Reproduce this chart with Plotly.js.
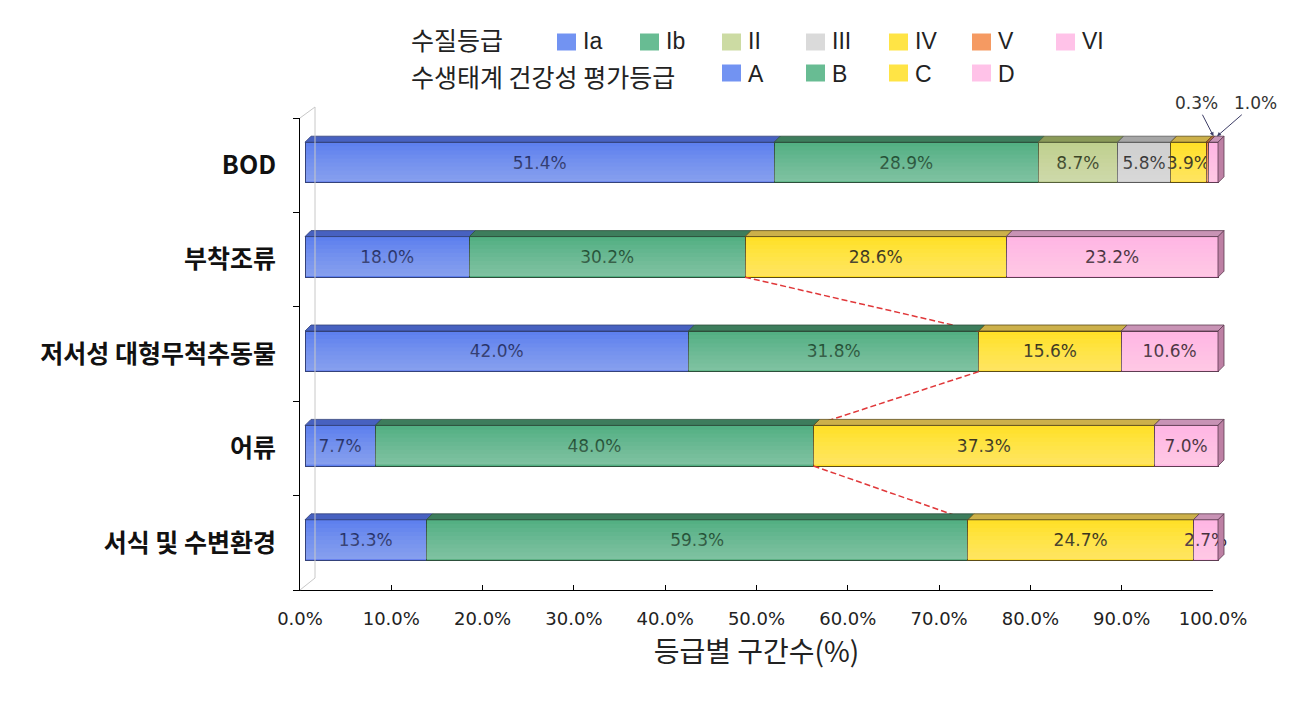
<!DOCTYPE html>
<html>
<head>
<meta charset="utf-8">
<script src="https://cdn.plot.ly/plotly-3.0.1.min.js"></script>
<style>html,body{margin:0;padding:0;background:#fff;}#chart{width:1312px;height:712px;}</style>
</head>
<body>
<div id="chart"></div>
<script>
// ---------------- data ----------------
const categories = ['BOD', '부착조류', '저서성 대형무척추동물', '어류', '서식 및 수변환경'];
const wqGrades = ['Ia', 'Ib', 'II', 'III', 'IV', 'V', 'VI'];
const bodValues = [51.4, 28.9, 8.7, 5.8, 3.9, 0.3, 1.0];
const healthGrades = ['A', 'B', 'C', 'D'];
const healthCategories = ['부착조류', '저서성 대형무척추동물', '어류', '서식 및 수변환경'];
const gradeA = [18.0, 42.0, 7.7, 13.3];
const gradeB = [30.2, 31.8, 48.0, 59.3];
const gradeC = [28.6, 15.6, 37.3, 24.7];
const gradeD = [23.2, 10.6, 7.0, 2.7];
const xTickVals = [0, 10, 20, 30, 40, 50, 60, 70, 80, 90, 100];
const xTickText = ['0.0%', '10.0%', '20.0%', '30.0%', '40.0%', '50.0%', '60.0%', '70.0%', '80.0%', '90.0%', '100.0%'];
const legendTitleWQ = '수질등급';
const legendTitleHealth = '수생태계 건강성 평가등급';
const xTitle = '등급별 구간수(%)';

// ---------------- styles ----------------
const wqStyle = {
  Ia:  {fill: '#5E80EE', swatch: '#7293F2', top: '#4761C0', edge: '#34427A', text: '#101C5A'},
  Ib:  {fill: '#53B083', swatch: '#68BC93', top: '#3D7D5C', edge: '#2D4F3B', text: '#0C3F22'},
  II:  {fill: '#BFD08E', swatch: '#CCDBA3', top: '#8A9A58', edge: '#55603A', text: '#27320E'},
  III: {fill: '#CFCFCF', swatch: '#DADADA', top: '#A6A6A6', edge: '#5A5A5A', text: '#222222'},
  IV:  {fill: '#FFE028', swatch: '#FFE445', top: '#CCB04A', edge: '#5C4C16', text: '#262006'},
  V:   {fill: '#F2874A', swatch: '#F59A62', top: '#B86F3E', edge: '#6A3A1C', text: '#2A1A0A'},
  VI:  {fill: '#FFB6E3', swatch: '#FFC2E8', top: '#C893B5', edge: '#5E3C52', text: '#341828', side: '#BD80A4'}
};
const healthStyle = {A: wqStyle.Ia, B: wqStyle.Ib, C: wqStyle.IV, D: wqStyle.VI};

// ---------------- geometry ----------------
const W = 1312, H = 712;
const plotL = 300, plotT = 118, plotB = 590, axisR = 1213, areaR = 1245;
const unitX = (axisR - plotL) / 100;
const unitY = (plotB - plotT) / categories.length;
const barShiftX = 5, barShiftY = 2.7, depth = 6;
const barWidth = 0.43;
const du = depth / unitX, dv = depth / unitY;
const x2Range = [-barShiftX / unitX, -barShiftX / unitX + (areaR - plotL) / unitX];
const y2Range = [categories.length - 0.5 + barShiftY / unitY, -0.5 + barShiftY / unitY];
const px2x = px => (px - plotL) / (areaR - plotL);
const py2y = py => (plotB - py) / (plotB - plotT);

const fontKR = '"Noto Sans CJK KR", "Noto Sans", sans-serif';
const fontNum = '"DejaVu Sans", "Liberation Sans", sans-serif';
const fontLat = '"Liberation Sans", Arial, sans-serif';

// ---------------- traces ----------------
const traces = [];
// empty trace so that the visible axis pair (x, y) is drawn
traces.push({type: 'scatter', mode: 'markers', x: [], y: [], xaxis: 'x', yaxis: 'y', showlegend: false, hoverinfo: 'skip'});

const bodIdx = categories.indexOf('BOD');
wqGrades.forEach((g, k) => {
  const st = wqStyle[g];
  traces.push({
    type: 'bar', orientation: 'h', xaxis: 'x2', yaxis: 'y2',
    name: g, x: [bodValues[k]], y: [bodIdx], width: barWidth,
    marker: {color: st.fill, line: {color: st.edge, width: 1}},
    texttemplate: '%{x:.1f}%', textposition: bodValues[k] < 2 ? 'none' : 'inside',
    insidetextanchor: 'middle', textangle: 0,
    textfont: {family: fontNum, size: 17, color: st.text},
    showlegend: false, hoverinfo: 'name+x'
  });
});
const healthY = healthCategories.map(c => categories.indexOf(c));
const healthVals = [gradeA, gradeB, gradeC, gradeD];
healthGrades.forEach((g, k) => {
  const st = healthStyle[g];
  traces.push({
    type: 'bar', orientation: 'h', xaxis: 'x2', yaxis: 'y2',
    name: g, x: healthVals[k], y: healthY, width: barWidth,
    marker: {color: st.fill, line: {color: st.edge, width: 1}},
    texttemplate: '%{x:.1f}%', textposition: 'inside',
    insidetextanchor: 'middle', textangle: 0,
    textfont: {family: fontNum, size: 17, color: st.text},
    showlegend: false, hoverinfo: 'name+x'
  });
});

// red dashed connectors between the B / C boundaries of consecutive rows
const cumAB = healthCategories.map((c, i) => gradeA[i] + gradeB[i]);
const connX = [], connY = [];
for (let i = 0; i < healthCategories.length - 1; i++) {
  connX.push(cumAB[i], cumAB[i + 1], null);
  connY.push(healthY[i] + barWidth / 2, healthY[i + 1] - barWidth / 2, null);
}
traces.push({
  type: 'scatter', mode: 'lines', xaxis: 'x2', yaxis: 'y2',
  x: connX, y: connY, line: {color: '#E0383A', width: 1.5, dash: '6px,3px'},
  showlegend: false, hoverinfo: 'skip'
});

// ---------------- 3D faces + shading ----------------
const shapes = [];
const nBands = 10, maxWhite = 0.32;
function addFaces(values, styles, yc) {
  const yt = yc - barWidth / 2, yb = yc + barWidth / 2;
  let base = 0;
  values.forEach((v, k) => {
    const x0 = base, x1 = base + v;
    shapes.push({
      type: 'path', xref: 'x2', yref: 'y2', layer: 'above',
      path: `M${x0},${yt} L${x0 + du},${yt - dv} L${x1 + du},${yt - dv} L${x1},${yt} Z`,
      fillcolor: styles[k].top, line: {color: styles[k].edge, width: 0.8}
    });
    base = x1;
  });
  const last = styles[styles.length - 1];
  shapes.push({
    type: 'path', xref: 'x2', yref: 'y2', layer: 'above',
    path: `M${base},${yt} L${base + du},${yt - dv} L${base + du},${yb - dv} L${base},${yb} Z`,
    fillcolor: last.side, line: {color: last.edge, width: 0.8}
  });
  // soft vertical gradient on the front faces: nested strips, each reaching the bottom
  const inner = 1.2 / unitY;
  for (let b = 1; b < nBands; b++) {
    shapes.push({
      type: 'rect', xref: 'x2', yref: 'y2', layer: 'above',
      x0: 0.1, x1: base - 0.1, y0: yt + (yb - yt) * b / nBands, y1: yb - inner,
      fillcolor: `rgba(255,255,255,${(maxWhite / (nBands - 1)).toFixed(4)})`, line: {width: 0}
    });
  }
}
addFaces(bodValues, wqGrades.map(g => wqStyle[g]), bodIdx);
healthCategories.forEach((c, i) => {
  addFaces(healthVals.map(a => a[i]), healthGrades.map(g => healthStyle[g]), healthY[i]);
});

// back wall of the 3D frame
const wallCol = '#C8C8C8';
const wallX = plotL + 15, wallTop = plotT - 11, wallBot = plotB - 12;
shapes.push({type: 'line', xref: 'paper', yref: 'paper', x0: px2x(wallX), x1: px2x(wallX), y0: py2y(wallTop), y1: py2y(wallBot), line: {color: wallCol, width: 1}});
shapes.push({type: 'line', xref: 'paper', yref: 'paper', x0: 0, x1: px2x(wallX), y0: 1, y1: py2y(wallTop), line: {color: wallCol, width: 1}});
shapes.push({type: 'line', xref: 'paper', yref: 'paper', x0: 0, x1: px2x(wallX), y0: 0, y1: py2y(wallBot), line: {color: wallCol, width: 1}});

// ---------------- custom legend ----------------
const annotations = [];
const row1Y = 42, row2Y = 73, swW = 19, swH = 17;
const colX = [557, 640, 722, 806, 889, 972, 1056];
annotations.push({xref: 'paper', yref: 'paper', x: px2x(409), y: py2y(39.5), xanchor: 'left', yanchor: 'middle',
  text: legendTitleWQ, showarrow: false, font: {family: fontKR, size: 25, color: '#222'}});
annotations.push({xref: 'paper', yref: 'paper', x: px2x(409), y: py2y(76), xanchor: 'left', yanchor: 'middle',
  text: legendTitleHealth, showarrow: false, font: {family: fontKR, size: 25, color: '#222'}});
function legendItem(label, st, cx, cy, ty) {
  shapes.push({type: 'rect', xref: 'paper', yref: 'paper',
    x0: px2x(cx), x1: px2x(cx + swW), y0: py2y(cy - swH / 2), y1: py2y(cy + swH / 2),
    fillcolor: st.swatch, line: {width: 0}});
  annotations.push({xref: 'paper', yref: 'paper', x: px2x(cx + swW + 5), y: py2y(ty), xanchor: 'left', yanchor: 'middle',
    text: label, showarrow: false, font: {family: fontLat, size: 23, color: '#222'}});
}
wqGrades.forEach((g, k) => legendItem(g, wqStyle[g], colX[k], row1Y, 41));
healthGrades.forEach((g, k) => legendItem(g, healthStyle[g], colX[k + 2], row2Y, 74));

// labels for the tiny BOD segments, with leader arrows
const bodCum = bodValues.map((v, k) => bodValues.slice(0, k).reduce((a, b) => a + b, 0));
const smallLabels = [{k: 5, fx: 1.0, ax: -17, ay: -33}, {k: 6, fx: 0.6, ax: 38, ay: -33}];
smallLabels.forEach(s => {
  annotations.push({
    xref: 'x2', yref: 'y2',
    x: bodCum[s.k] + bodValues[s.k] / 2 + du * s.fx, y: bodIdx - barWidth / 2 - dv,
    text: bodValues[s.k].toFixed(1) + '%', showarrow: true, arrowhead: 2, arrowsize: 0.8,
    arrowwidth: 1, arrowcolor: '#3D3D66', ax: s.ax, ay: s.ay, standoff: 0,
    font: {family: fontNum, size: 17, color: '#333'}
  });
});

// ---------------- layout ----------------
const layout = {
  width: W, height: H, autosize: false,
  margin: {l: plotL, r: W - areaR, t: plotT, b: H - plotB, pad: 0},
  paper_bgcolor: '#fff', plot_bgcolor: 'rgba(0,0,0,0)',
  barmode: 'stack', bargap: 0.5,
  uniformtext: {minsize: 17, mode: 'show'},
  showlegend: false,
  xaxis: {
    domain: [0, (axisR - plotL) / (areaR - plotL)], range: [0, 100], anchor: 'y',
    tickmode: 'array', tickvals: xTickVals, ticktext: xTickText,
    ticks: 'inside', ticklen: 5, tickcolor: '#000', tickwidth: 1,
    showline: true, linecolor: '#000', linewidth: 1, showgrid: false, zeroline: false,
    tickfont: {family: fontNum, size: 18, color: '#222'}, ticklabelstandoff: 12,
    title: {text: xTitle, font: {family: fontKR, size: 28, color: '#222'}, standoff: 14},
    fixedrange: true
  },
  yaxis: {
    domain: [0, 1], range: [categories.length - 0.5, -0.5], anchor: 'x',
    tickmode: 'array', tickvals: categories.map((c, i) => i), ticktext: categories,
    ticks: '', showline: true, linecolor: '#000', linewidth: 1, showgrid: false, zeroline: false,
    tickfont: {family: fontKR, size: 25, color: '#111', weight: 700}, ticklabelstandoff: 18,
    minor: {tickmode: 'array', tickvals: categories.map((c, i) => i - 0.5).concat([categories.length - 0.5]),
      ticks: 'outside', ticklen: 6, tickcolor: '#000', tickwidth: 1, showgrid: false},
    fixedrange: true
  },
  xaxis2: {domain: [0, 1], range: x2Range, anchor: 'y2', visible: false, fixedrange: true},
  yaxis2: {domain: [0, 1], range: y2Range, anchor: 'x2', visible: false, fixedrange: true},
  shapes: shapes,
  annotations: annotations
};

Plotly.newPlot('chart', traces, layout, {displayModeBar: false, staticPlot: true});
</script>
</body>
</html>
